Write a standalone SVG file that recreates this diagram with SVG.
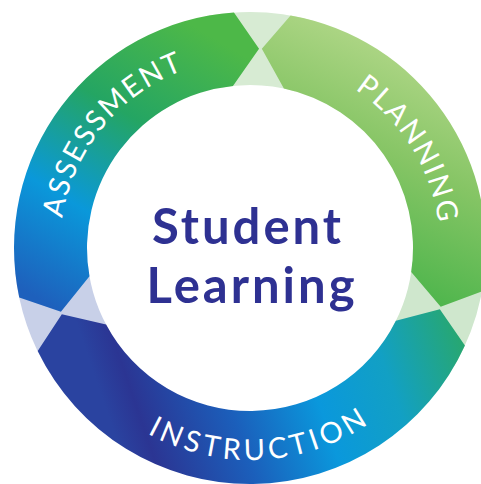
<svg xmlns="http://www.w3.org/2000/svg" width="481" height="484" viewBox="0 0 481 484">
  <defs>
    <linearGradient id="gPlan" gradientUnits="userSpaceOnUse" x1="470" y1="60" x2="360" y2="300">
      <stop offset="0" stop-color="#b6d98c"/>
      <stop offset="0.45" stop-color="#86c565"/>
      <stop offset="1" stop-color="#42b247"/>
    </linearGradient>
    <linearGradient id="gAssess" gradientUnits="userSpaceOnUse" x1="200" y1="30" x2="40" y2="300">
      <stop offset="0" stop-color="#4db848"/>
      <stop offset="0.35" stop-color="#24a563"/>
      <stop offset="0.68" stop-color="#0a98da"/>
      <stop offset="1" stop-color="#1e60bc"/>
    </linearGradient>
    <linearGradient id="gInstr" gradientUnits="userSpaceOnUse" x1="470" y1="330" x2="120" y2="450">
      <stop offset="0" stop-color="#2aa866"/>
      <stop offset="0.25" stop-color="#12a0c4"/>
      <stop offset="0.45" stop-color="#0a98dc"/>
      <stop offset="0.68" stop-color="#1b5fbb"/>
      <stop offset="0.92" stop-color="#2b3593"/>
      <stop offset="1" stop-color="#2a43a0"/>
    </linearGradient>
    <path id="pAssess" d="M72.03,314.54 A190,190 0 0 1 281.36,60.60" fill="none"/>
    <path id="pPlan" d="M244.03,58.09 A190,190 0 0 1 417.45,337.78" fill="none"/>
    <path id="pInstr" d="M72.20,363.46 A212,212 0 0 0 438.89,344.25" fill="none"/>
  </defs>
  <style>
    .label { font-family: Lato, "Open Sans", "Liberation Sans", sans-serif; font-size: 29px; fill: #ffffff; }
    .center { font-family: Lato, "Open Sans", "Liberation Sans", sans-serif; font-weight: bold; font-size: 49px; fill: #2e3192; text-anchor: middle; letter-spacing: 3px; }
  </style>
  <rect width="481" height="484" fill="#ffffff"/>
  <g id="gaps">
    <path d="M209.02,15.58 A236,236 0 0 1 315.05,21.14 L294.93,91.31 A163,163 0 0 0 221.70,87.48 Z" fill="#d7ebd3"/>
    <path d="M485.10,268.57 A236,236 0 0 1 454.38,366 L391.16,329.5 A163,163 0 0 0 412.38,262.21 Z" fill="#cfe7cd"/>
    <path d="M49.86,373.06 A236,236 0 0 1 15.29,272.67 L87.89,265.04 A163,163 0 0 0 111.77,334.38 Z" fill="#c8d0e8"/>
  </g>
  <g id="planning">
    <path d="M261.83,48.85 L290.58,15.51 A236,236 0 0 1 481.97,291.41 L440.68,306.66 L411.21,272.09 A163,163 0 0 0 283.89,88.56 Z" fill="url(#gPlan)"/>
    <text class="label" letter-spacing="2"><textPath href="#pPlan" startOffset="50%" text-anchor="middle">PLANNING</textPath></text>
  </g>
  <g id="instruction">
    <path d="M439.84,309.32 L464.92,345.49 A236,236 0 0 1 37.70,351.08 L61.83,314.27 L106.08,324.52 A163,163 0 0 0 395.87,320.73 Z" fill="url(#gInstr)"/>
    <text class="label" letter-spacing="4"><textPath href="#pInstr" startOffset="50%" text-anchor="middle">INSTRUCTION</textPath></text>
  </g>
  <g id="assessment">
    <path d="M60.92,311.63 L19.24,297.47 A236,236 0 0 1 233.95,12.55 L259.05,48.71 L232.96,85.89 A163,163 0 0 0 89.48,276.30 Z" fill="url(#gAssess)"/>
    <text class="label" letter-spacing="2"><textPath href="#pAssess" startOffset="50%" text-anchor="middle">ASSESSMENT</textPath></text>
  </g>
  <g id="student-learning">
    <text class="center"><tspan x="248" y="244">Student</tspan><tspan x="252" y="303">Learning</tspan></text>
  </g>
</svg>
